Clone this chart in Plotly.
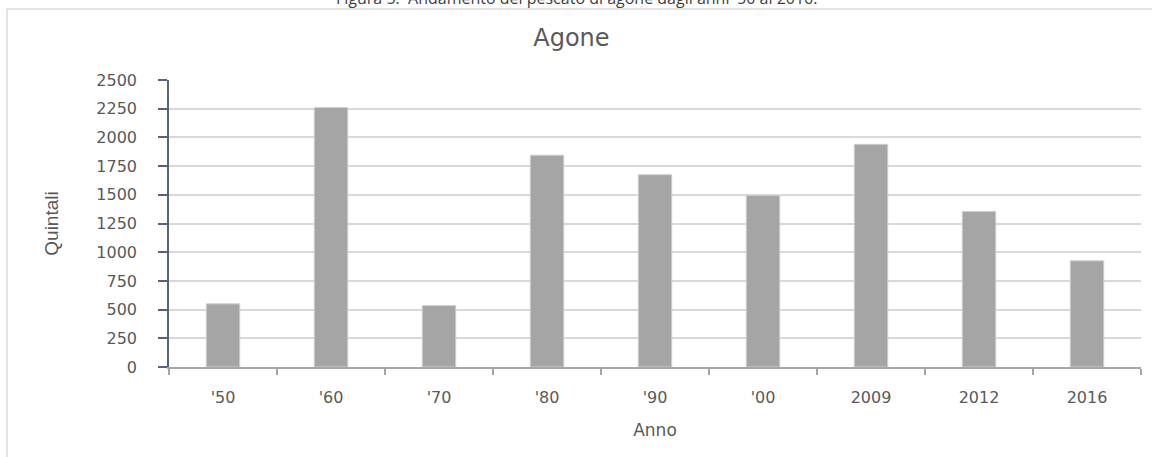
import plotly.graph_objects as go

# Pescato di agone (quintali) per anno
anni = ["'50", "'60", "'70", "'80", "'90", "'00", "2009", "2012", "2016"]
quintali = [550, 2260, 535, 1845, 1675, 1495, 1940, 1355, 925]

y_ticks = [0, 250, 500, 750, 1000, 1250, 1500, 1750, 2000, 2250, 2500]

TEXT = "#595959"
GRID = "#d9d9d9"
YLINE = "#56637c"
XLINE = "#a6a6a6"
BAR = "#a5a5a5"

W, H = 1152, 457
L, R, T, B = 169, 11, 80, 90
PW, PH = W - L - R, H - T - B


def px_x(px):
    return (px - L) / PW


def px_y(py):
    return (T + PH - py) / PH


fig = go.Figure(
    go.Bar(
        x=anni,
        y=quintali,
        marker=dict(color=BAR, line=dict(color="#cfcfcf", width=1)),
        hoverinfo="x+y",
    )
)

fig.update_layout(
    width=W,
    height=H,
    margin=dict(l=L, r=R, t=T, b=B, autoexpand=False),
    paper_bgcolor="white",
    plot_bgcolor="white",
    bargap=0.69,
    showlegend=False,
    title=dict(
        text="Agone",
        x=0.496,
        xref="container",
        xanchor="center",
        y=1 - 38 / H,
        yref="container",
        yanchor="middle",
        font=dict(family="DejaVu Sans", size=24, color=TEXT),
    ),
    xaxis=dict(
        type="category",
        tickson="boundaries",
        ticks="outside",
        ticklen=6,
        tickwidth=1.5,
        tickcolor=XLINE,
        showline=True,
        linecolor=XLINE,
        linewidth=2,
        showgrid=False,
        tickfont=dict(family="DejaVu Sans", size=16, color=TEXT),
        ticklabelstandoff=15,
        title=dict(
            text="Anno",
            standoff=18,
            font=dict(family="DejaVu Sans", size=17, color=TEXT),
        ),
        automargin=False,
    ),
    yaxis=dict(
        range=[0, 2500],
        tickvals=y_ticks,
        ticks="outside",
        ticklen=9,
        tickwidth=1.5,
        tickcolor=YLINE,
        showline=True,
        linecolor=YLINE,
        linewidth=1.5,
        showgrid=True,
        gridcolor=GRID,
        gridwidth=1.5,
        zeroline=False,
        tickfont=dict(family="DejaVu Sans", size=16, color=TEXT),
        ticklabelstandoff=18,
        title=dict(
            text="Quintali",
            standoff=33,
            font=dict(family="Liberation Sans", size=19, color=TEXT),
        ),
        automargin=False,
    ),
)

# Cornice del grafico e didascalia della figura
fig.add_shape(
    type="rect",
    xref="paper",
    yref="paper",
    x0=px_x(7),
    x1=px_x(1170),
    y0=px_y(480),
    y1=px_y(9),
    line=dict(color="#dcdcdc", width=1.5),
    fillcolor="rgba(0,0,0,0)",
    layer="below",
)
fig.add_annotation(
    text="Figura 5:  Andamento del pescato di agone dagli anni '50 al 2016.",
    xref="paper",
    yref="paper",
    x=px_x(576),
    y=px_y(-2),
    xanchor="center",
    yanchor="middle",
    showarrow=False,
    font=dict(family="Open Sans", size=16, color="#404040"),
)

fig.write_html("out.html")
